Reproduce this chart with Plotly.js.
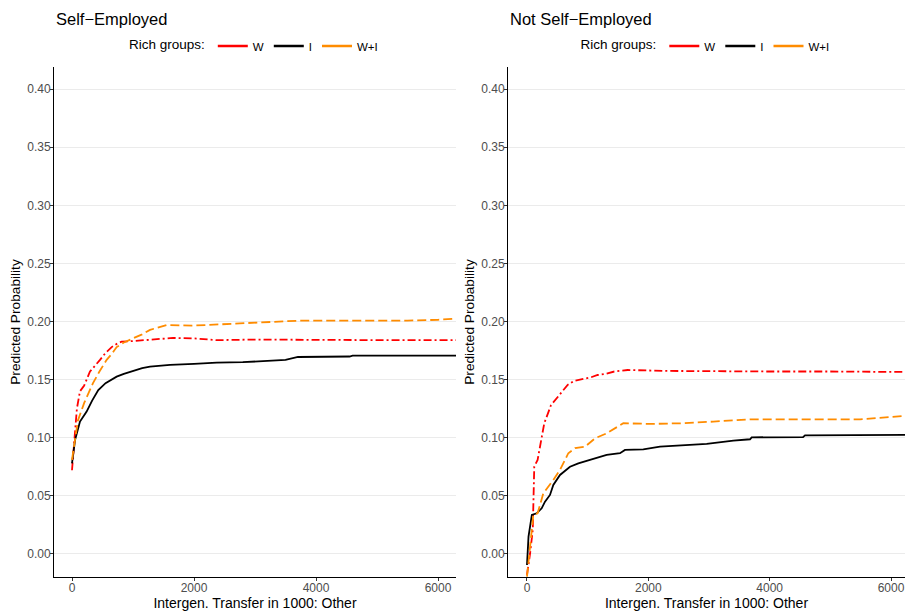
<!DOCTYPE html>
<html>
<head>
<meta charset="utf-8">
<script src="https://cdn.plot.ly/plotly-3.0.1.min.js"></script>
<style>html,body{margin:0;padding:0;background:#fff;}#chart{width:905px;height:615px;}</style>
</head>
<body>
<div id="chart"></div>
<script>
// Panel titles and series names
var panelTitles = ["Self\u2212Employed", "Not Self\u2212Employed"];
var groupNames = ["W", "I", "W+I"];
var xTitle = "Intergen. Transfer in 1000: Other";
var yTitle = "Predicted Probability";
var xTickVals = [0, 2000, 4000, 6000];

// Self-Employed panel
var seX_W = [0, 30, 80, 131, 200, 295, 380, 459, 550, 650, 740, 814, 950, 1164, 1400, 1656, 2000, 2372, 3000, 4000, 5000, 6300];
var seY_W = [0.072, 0.095, 0.125, 0.140, 0.145, 0.157, 0.162, 0.167, 0.173, 0.178, 0.181, 0.1827, 0.183, 0.184, 0.185, 0.1859, 0.1855, 0.184, 0.1845, 0.184, 0.184, 0.184];
var seX_I = [0, 50, 131, 240, 330, 431, 550, 650, 732, 850, 1005, 1150, 1279, 1450, 1607, 2000, 2372, 2800, 3191, 3500, 3705, 4200, 4550, 4600, 6300];
var seY_I = [0.078, 0.098, 0.1139, 0.1225, 0.132, 0.141, 0.147, 0.150, 0.1526, 0.155, 0.1578, 0.160, 0.1612, 0.162, 0.1627, 0.1635, 0.1646, 0.165, 0.166, 0.167, 0.1695, 0.1698, 0.1699, 0.1707, 0.1707];
var seX_WI = [0, 50, 98, 200, 344, 450, 568, 650, 732, 850, 1005, 1150, 1279, 1552, 1984, 2536, 2918, 3738, 4500, 5500, 6000, 6300];
var seY_WI = [0.081, 0.100, 0.115, 0.130, 0.147, 0.157, 0.167, 0.172, 0.178, 0.182, 0.1856, 0.189, 0.1928, 0.197, 0.1965, 0.198, 0.199, 0.2008, 0.2008, 0.2008, 0.2015, 0.2025];

// Not Self-Employed panel
var nseX_W = [0, 50, 95, 120, 175, 230, 285, 395, 532, 670, 780, 890, 1054, 1164, 1300, 1439, 1659, 2318, 3000, 4000, 5000, 6240];
var nseY_W = [-0.018, 0.0, 0.0207, 0.0752, 0.081, 0.097, 0.1125, 0.128, 0.137, 0.1455, 0.149, 0.150, 0.152, 0.154, 0.155, 0.157, 0.1583, 0.1575, 0.1572, 0.157, 0.157, 0.1566];
var nseX_I = [0, 25, 80, 160, 242, 297, 379, 434, 544, 709, 846, 928, 1038, 1313, 1533, 1615, 1917, 2192, 2577, 2962, 3401, 3676, 3703, 4550, 4582, 6240];
var nseY_I = [-0.0095, 0.0149, 0.0336, 0.035, 0.0393, 0.045, 0.0508, 0.0594, 0.068, 0.0751, 0.078, 0.0794, 0.081, 0.0852, 0.0867, 0.0895, 0.090, 0.0923, 0.0938, 0.0948, 0.0975, 0.0987, 0.1004, 0.1005, 0.1021, 0.1024];
var nseX_WI = [0, 49, 104, 175, 269, 434, 544, 681, 791, 956, 1121, 1313, 1588, 2027, 2577, 3072, 3676, 5489, 6240];
var nseY_WI = [-0.0195, 0.0063, 0.0336, 0.035, 0.0522, 0.0637, 0.0723, 0.0867, 0.091, 0.0923, 0.0995, 0.1038, 0.1125, 0.1119, 0.1125, 0.1139, 0.1159, 0.1159, 0.1188];

var colors = ["#FF0000", "#000000", "#FF8C00"];
var dashes = ["8px,3px,2px,3px", "solid", "9px,4px"];

var FONT = "Liberation Sans, Arial, Helvetica, sans-serif";
var traces = [];
var panels = [
  {xs: [seX_W, seX_I, seX_WI], ys: [seY_W, seY_I, seY_WI], xa: "x", ya: "y", lg: "legend"},
  {xs: [nseX_W, nseX_I, nseX_WI], ys: [nseY_W, nseY_I, nseY_WI], xa: "x2", ya: "y2", lg: "legend2"}
];
panels.forEach(function (p) {
  for (var i = 0; i < 3; i++) {
    traces.push({
      type: "scatter", mode: "lines", x: p.xs[i], y: p.ys[i], xaxis: p.xa, yaxis: p.ya,
      name: groupNames[i], showlegend: false, hoverinfo: "skip",
      line: {color: colors[i], width: 1.8, dash: dashes[i]}
    });
  }
  // legend keys (solid lines, as in the reference legend)
  for (var j = 0; j < 3; j++) {
    traces.push({
      type: "scatter", mode: "lines", x: [null], y: [null], xaxis: p.xa, yaxis: p.ya,
      name: groupNames[j], showlegend: true, legend: p.lg,
      line: {color: colors[j], width: 2.4}
    });
  }
});

function xAxis(dom, anchor, rng) {
  return {
    domain: dom, anchor: anchor, range: rng,
    tickvals: xTickVals, ticktext: xTickVals.map(String),
    showgrid: false, zeroline: false,
    showline: true, linecolor: "#000", linewidth: 1,
    ticks: "outside", ticklen: 3, tickcolor: "#333", tickwidth: 1,
    ticklabelstandoff: -3,
    tickfont: {family: FONT, size: 12, color: "#4d4d4d"},
    title: {text: xTitle, font: {family: FONT, size: 14, color: "#000"}, standoff: 0}
  };
}
function yAxis(anchor) {
  return {
    domain: [0, 1], anchor: anchor, range: [-0.0198, 0.419],
    tick0: 0, dtick: 0.05, tickformat: ".2f",
    showgrid: true, gridcolor: "#ebebeb", gridwidth: 1, zeroline: false,
    showline: true, linecolor: "#000", linewidth: 1,
    ticks: "outside", ticklen: 3, tickcolor: "#333", tickwidth: 1,
    ticklabelstandoff: -3,
    tickfont: {family: FONT, size: 12, color: "#4d4d4d"},
    title: {text: yTitle, font: {family: FONT, size: 13.7, color: "#000"}, standoff: 3}
  };
}

var W = 851;
var legendBase = {
  orientation: "h", xanchor: "center", y: (577 - 46) / 510, yanchor: "middle",
  title: {text: "Rich groups:", side: "left", font: {family: FONT, size: 13.5, color: "#000"}},
  font: {family: FONT, size: 11.5, color: "#000"}, itemwidth: 30, tracegroupgap: 0,
  bgcolor: "rgba(0,0,0,0)"
};
var layout = {
  width: 905, height: 615,
  margin: {l: 54, r: 0, t: 67, b: 38, pad: 0},
  paper_bgcolor: "#fff", plot_bgcolor: "#fff",
  font: {family: FONT, color: "#000"},
  xaxis: xAxis([0, 402 / W], "y", [-295, 6295]),
  yaxis: yAxis("x"),
  xaxis2: xAxis([454 / W, 1], "y2", [-313, 6230]),
  yaxis2: yAxis("x2"),
  legend: Object.assign({}, legendBase, {x: 201 / W}),
  legend2: Object.assign({}, legendBase, {x: (454 + 851) / 2 / W}),
  annotations: [
    {text: panelTitles[0], xref: "paper", yref: "paper", x: 0, y: (577 - 19) / 510,
     xanchor: "left", yanchor: "middle", showarrow: false, font: {family: FONT, size: 16.5, color: "#000"}},
    {text: panelTitles[1], xref: "paper", yref: "paper", x: 454 / W, y: (577 - 19) / 510,
     xanchor: "left", yanchor: "middle", showarrow: false, font: {family: FONT, size: 16.5, color: "#000"}}
  ]
};

Plotly.newPlot("chart", traces, layout, {displayModeBar: false, staticPlot: true});
</script>
</body>
</html>
